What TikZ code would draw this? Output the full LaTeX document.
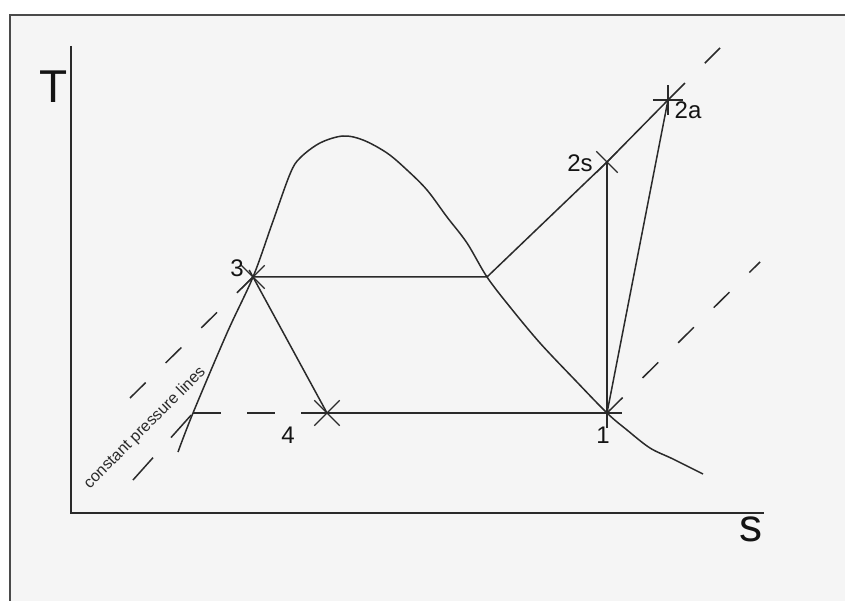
\documentclass[tikz,border=0pt]{standalone}
\usepackage{fontspec}
\setmainfont{Liberation Sans}
\usetikzlibrary{shapes.misc}
\definecolor{inkgrey}{HTML}{2A2A2A}
\definecolor{textgrey}{HTML}{141414}
\definecolor{paper}{HTML}{F5F5F5}
\tikzset{every node/.style={font=\fontsize{24}{28}\selectfont,text=textgrey,inner sep=0pt},
  curve/.style={draw=inkgrey,line width=1.5pt},
  isobar/.style={draw=inkgrey,line width=1.5pt,dash pattern=on 22pt off 28pt},
  statex/.style={cross out,draw=inkgrey,line width=1.3pt,minimum size=22pt},
  stateplus/.style={statex,rotate=45,minimum size=20pt},
  axislabel/.style={font=\fontsize{46}{50}\selectfont},
  smalllabel/.style={font=\fontsize{16}{18}\selectfont,text=inkgrey}}

\begin{document}
\begin{tikzpicture}[x=1pt,y=-1pt]
  \path[use as bounding box] (0,0) rectangle (845,601);
  \fill[white] (0,0) rectangle (845,601);
  \fill[paper] (10,15) rectangle (845,601);
  \draw[draw=inkgrey!85,line width=2pt] (10,601) -- (10,15) -- (845,15);
  % axes
  \coordinate (ttop) at (71,46);
  \coordinate (orig) at (71,513);
  \coordinate (send) at (764,513);
  \draw[curve] (ttop) -- (orig) -- (send);
  \node[axislabel] (lblT) at (54,87) {T};
  \node[axislabel] (lbls) at (751,529) {s};
  % state points and ends of the pressure lines
  \coordinate (p1) at (607,413);
  \coordinate (p2s) at (607,162);
  \coordinate (p2a) at (668,100);
  \coordinate (p3) at (253,277);
  \coordinate (p4) at (327,413);
  \coordinate (hpvap) at (487,277);
  \coordinate (lpliq) at (193,413);
  \coordinate (hpstart) at (130,398);
  \coordinate (hpend) at (720,48);
  \coordinate (lpstart) at (133,480);
  \coordinate (lpend) at (760,262);
  % saturation dome
  \draw[curve] plot[smooth,tension=0.55] coordinates {(178,452) (lpliq) (227,333) (p3)
    (272,224) (290,174) (300,158) (320,143) (343,136) (363,140) (387,153) (407,170)
    (427,190) (447,217) (467,243) (hpvap) (510,307) (540,343) (575,380) (p1)
    (627,430) (650,448) (673,459) (703,474)};
  % constant pressure lines
  \draw[isobar] (hpstart) -- (p3);
  \draw[curve] (p3) -- (hpvap) -- (p2s) -- (p2a);
  \draw[isobar,dash pattern=on 24pt off 28pt] (p2a) -- (hpend);
  \draw[isobar,dash pattern=on 30pt off 27pt] (lpstart) -- (lpliq);
  \draw[isobar,dash pattern=on 28pt off 26pt] (lpliq) -- (p4);
  \draw[curve] (p4) -- (p1);
  \draw[isobar] (p1) -- (lpend);
  % cycle
  \draw[curve,shorten <=-8pt] (p3) -- (p4);
  \draw[curve] (p1) -- (p2s);
  \draw[curve] (p1) -- (p2a);
  % state marks
  \node[statex] (m3) at (p3) {};
  \node[statex,minimum size=24pt] (m4) at (p4) {};
  \node[statex,minimum size=20pt] (m2s) at (p2s) {};
  \node[stateplus] (m2a) at (p2a) {};
  \node[stateplus] (m1) at (p1) {};
  % labels
  \node (lbl1) at (603,435) {1};
  \node (lbl2s) at (580,163) {2s};
  \node (lbl2a) at (688,110) {2a};
  \node (lbl3) at (237,268) {3};
  \node (lbl4) at (288,435) {4};
  \node[smalllabel,rotate=45] (lblcp) at (145,428) {constant pressure lines};
\end{tikzpicture}
\end{document}
